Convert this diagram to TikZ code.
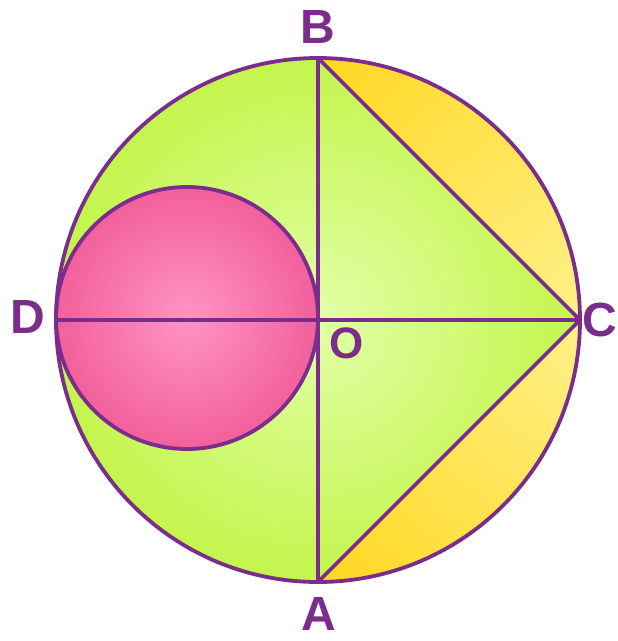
\documentclass[tikz,border=0pt]{standalone}
\usepackage{fontspec}
\setmainfont{Liberation Sans}
\definecolor{purp}{HTML}{7B2D8C}
\definecolor{grn}{HTML}{C4F54C}
\definecolor{grnlt}{HTML}{E2FFA8}
\definecolor{ylw}{HTML}{FFD414}
\definecolor{ylwlt}{HTML}{FFF28E}
\definecolor{pnk}{HTML}{F2609C}
\definecolor{pnklt}{HTML}{FF94C4}
\tikzset{
  edge/.style={draw=purp, line width=3.8pt},
  lbl/.style={text=purp, font=\bfseries\fontsize{48}{48}\selectfont, inner sep=0pt},
  lbls/.style={text=purp, font=\bfseries\fontsize{44}{44}\selectfont, inner sep=0pt}
}
\begin{document}
\begin{tikzpicture}[x=1pt,y=1pt]
\useasboundingbox (0,0) rectangle (618,-641);
\coordinate (O) at (318,-320);
\coordinate (B) at (318,-58);
\coordinate (C) at (580,-320);
\coordinate (A) at (318,-582);
\coordinate (D) at (56,-320);
\coordinate (P) at (187,-318);
% big circle fill
\shade[inner color=grnlt, outer color=grn] (O) circle[radius=262];
% yellow segments
\begin{scope}
  \clip (B) arc[start angle=90, end angle=0, radius=262] -- cycle
        (C) arc[start angle=0, end angle=-90, radius=262] -- cycle;
  \shade[inner color=ylwlt, outer color=ylw] (600,-320) circle[radius=430];
\end{scope}
% pink circle
\shade[inner color=pnklt, outer color=pnk] (P) circle[radius=131];
% lines
\draw[edge] (B) -- (A);
\draw[edge] (D) -- (C);
\draw[edge, line join=round] (B) -- (C) -- (A);
\draw[edge] (P) circle[radius=131];
\draw[edge] (O) circle[radius=262];
% labels
\node[lbl] (lB) at (318,-27) {B};
\node[lbl] (lC) at (600,-320) {C};
\node[lbl] (lD) at (28,-317) {D};
\node[lbl] (lA) at (319,-614) {A};
\node[lbls] (lO) at (347,-343) {O};
\end{tikzpicture}
\end{document}
